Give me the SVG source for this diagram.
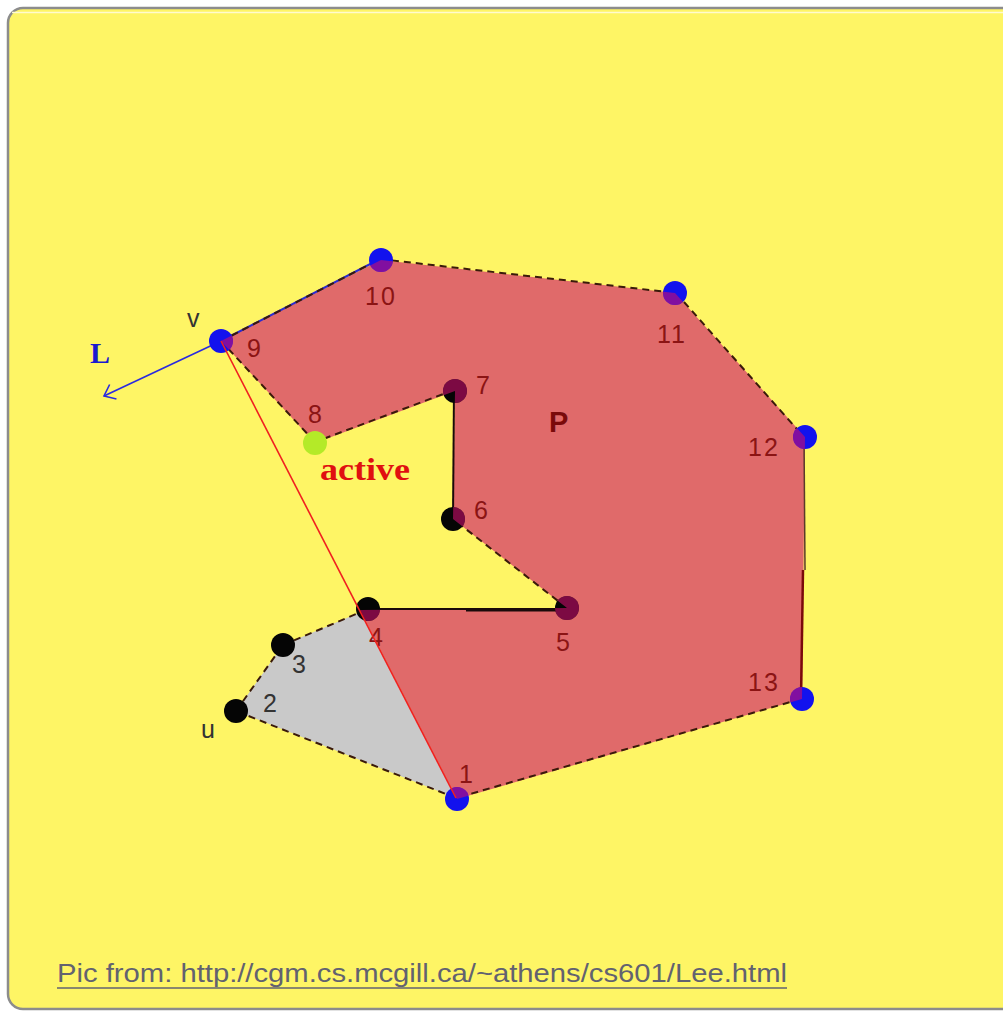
<svg xmlns="http://www.w3.org/2000/svg" width="1003" height="1012" viewBox="0 0 1003 1012">
<defs>
<style>
.num{font-family:"Liberation Sans",Arial,sans-serif;font-size:25px;fill:#8b1414;letter-spacing:2px}
.gnum{font-family:"Liberation Sans",Arial,sans-serif;font-size:25px;fill:#333;letter-spacing:2px}
.edge{stroke:#3a1a0a;stroke-width:2;fill:none;stroke-dasharray:7 5}
.solid{stroke:#1a0a0a;stroke-width:2;fill:none}
.blue{fill:#1212ee}
.black{fill:#050505}
.tint{fill:#cc0d6d;fill-opacity:0.6;clip-path:url(#pclip)}
</style>
<clipPath id="pclip">
<polygon points="457,799 360,610 567,608 453,519 455,391 315,443 221,341 381,260 675,293 805,437 802,699"/>
</clipPath>
<marker id="openArrow" viewBox="0 0 20 20" refX="12" refY="10" markerWidth="20" markerHeight="20" markerUnits="userSpaceOnUse" orient="auto">
<path d="M2,2 L12,10 L2,18" fill="none" stroke="#2a2ae0" stroke-width="1.6"/>
</marker>
</defs>
<rect x="0" y="0" width="1003" height="1012" fill="#ffffff"/>
<rect x="8" y="8" width="1010" height="1001" rx="15" fill="#fef565" stroke="#8c8c8c" stroke-width="2.5"/>
<path d="M12,12.5 H1003" stroke="#fffbd0" stroke-width="1.5"/>

<g id="regions">
<polygon points="456,798 236,711 283,645 368,609 360,610" fill="#c9c9c9"/>
<polygon points="457,799 360,610 567,608 453,519 455,391 315,443 221,341 381,260 675,293 805,437 802,699" fill="#e06a6a"/>
</g>

<g id="connectors">
<line x1="456" y1="798" x2="236" y2="711" class="edge"/>
<line x1="236" y1="711" x2="283" y2="645" class="edge"/>
<line x1="283" y1="645" x2="368" y2="609" class="edge"/>
<line x1="368" y1="609" x2="567" y2="609" class="solid"/>
<line x1="466" y1="610" x2="560" y2="610" stroke="#1a0a0a" stroke-width="3"/>
<line x1="567" y1="608" x2="453" y2="519" class="edge"/>
<line x1="453" y1="519" x2="454" y2="390" class="solid"/>
<line x1="454" y1="390" x2="315" y2="442" class="edge"/>
<line x1="315" y1="442" x2="221" y2="341" class="edge"/>
<line x1="221" y1="341" x2="380" y2="259" stroke="#2a2ad0" stroke-width="2"/>
<line x1="221" y1="341" x2="380" y2="259" class="edge" stroke="#1a1a3a"/>
<line x1="380" y1="259" x2="676" y2="293" class="edge"/>
<line x1="676" y1="293" x2="804" y2="437" class="edge"/>
<line x1="804" y1="437" x2="805" y2="570" stroke="#5a3a2a" stroke-width="1.5"/>
<line x1="803" y1="570" x2="801" y2="699" stroke="#7a0a0a" stroke-width="2.5"/>
<line x1="801" y1="699" x2="456" y2="798" class="edge"/>
<line x1="221" y1="341" x2="104" y2="396" stroke="#2a2ae0" stroke-width="1.6" marker-end="url(#openArrow)"/>
</g>

<g id="node-1"><circle cx="457" cy="799" r="12" class="blue"/><circle cx="457" cy="799" r="12" class="tint"/><text x="459" y="783" class="num">1</text></g>
<g id="node-2"><circle cx="236" cy="711" r="12" class="black"/><text x="263" y="712" class="gnum">2</text><text x="201" y="738" class="gnum" fill="#444">u</text></g>
<g id="node-3"><circle cx="283" cy="645" r="12" class="black"/><text x="292" y="673" class="gnum">3</text></g>
<g id="node-4"><circle cx="368" cy="609" r="12" class="black"/><circle cx="368" cy="609" r="12" class="tint"/><text x="369" y="646" class="num">4</text></g>
<g id="node-5"><circle cx="567" cy="608" r="12" class="black"/><circle cx="567" cy="608" r="12" class="tint"/><text x="556" y="651" class="num">5</text></g>
<g id="node-6"><circle cx="453" cy="519" r="12" class="black"/><circle cx="453" cy="519" r="12" class="tint"/><text x="474" y="519" class="num">6</text></g>
<g id="node-7"><circle cx="455" cy="391" r="12" class="black"/><circle cx="455" cy="391" r="12" class="tint"/><text x="476" y="394" class="num">7</text></g>
<g id="node-9"><circle cx="221" cy="341" r="12" class="blue"/><circle cx="221" cy="341" r="12" class="tint"/><text x="247" y="357" class="num">9</text><text x="187" y="327" class="gnum" fill="#333">v</text></g>
<g id="node-10"><circle cx="381" cy="260" r="12" class="blue"/><circle cx="381" cy="260" r="12" class="tint"/><text x="365" y="305" class="num">10</text></g>
<g id="node-11"><circle cx="675" cy="293" r="12" class="blue"/><circle cx="675" cy="293" r="12" class="tint"/><text x="657" y="343" class="num">11</text></g>
<g id="node-12"><circle cx="805" cy="437" r="12" class="blue"/><circle cx="805" cy="437" r="12" class="tint"/><text x="748" y="456" class="num">12</text></g>
<g id="node-13"><circle cx="802" cy="699" r="12" class="blue"/><circle cx="802" cy="699" r="12" class="tint"/><text x="748" y="691" class="num">13</text></g>

<g id="chord">
<line x1="221" y1="341" x2="456" y2="798" stroke="#f02020" stroke-width="1.6"/>
</g>

<g id="node-8"><circle cx="315" cy="443" r="12" fill="#b4ea28"/><text x="308" y="423" class="num">8</text><text x="320" y="480" font-family="'Liberation Serif','Times New Roman',serif" font-weight="bold" font-size="32" fill="#e01010" textLength="90" lengthAdjust="spacingAndGlyphs">active</text></g>

<g id="labels">
<text x="549" y="432" font-family="'Liberation Sans',Arial,sans-serif" font-weight="bold" font-size="29" fill="#7a0a0a">P</text>
<text x="90" y="363" font-family="'Liberation Serif','Times New Roman',serif" font-weight="bold" font-size="30" fill="#1a1ad0">L</text>
<text x="57" y="982" font-family="'Liberation Sans',Arial,sans-serif" font-size="25" fill="#626270" textLength="730" lengthAdjust="spacingAndGlyphs">Pic from: http://cgm.cs.mcgill.ca/~athens/cs601/Lee.html</text>
<line x1="57" y1="988" x2="787" y2="988" stroke="#626270" stroke-width="1.5"/>
</g>
</svg>
